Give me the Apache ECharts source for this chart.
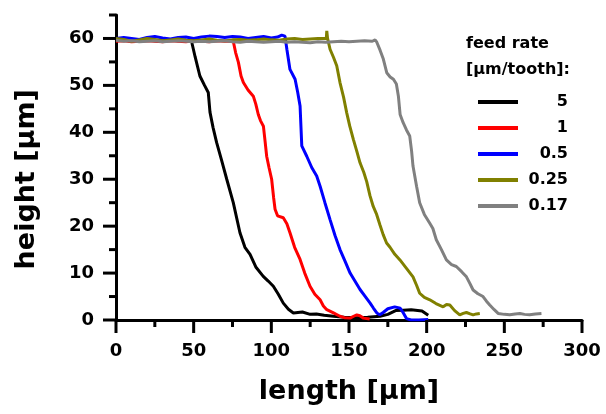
<!DOCTYPE html>
<html>
<head>
<meta charset="utf-8">
<script src="https://cdn.jsdelivr.net/npm/echarts@6/dist/echarts.min.js"></script>
<style>
  html, body { margin: 0; padding: 0; background: #fff; }
  #chart { width: 606px; height: 414px; }
</style>
</head>
<body>
<div id="chart"></div>
<script>
// Feed-rate profiles: height over length, one curve per feed rate
const seriesNames = ['5', '1', '0.5', '0.25', '0.17'];
const seriesColors = ['#000000', '#ff0000', '#0000ff', '#808000', '#808080'];

const x5 = [0, 5, 10, 15, 20, 25, 30, 35, 40, 45, 48.7, 51, 54, 57, 59.4, 60.5, 62.5, 64.8, 68, 71.3, 75.5, 79.8, 83, 86.3, 90, 94.8, 98, 101.3, 104.5, 107.7, 111, 114.2, 120, 125, 129, 134, 140, 147, 155, 162, 170, 175, 180, 185, 190, 197, 201];
const y5 = [59.5, 59.7, 59.4, 59.6, 59.8, 59.5, 59.4, 59.7, 59.5, 59.6, 59.3, 56, 52, 50, 48.5, 44.3, 41, 37.8, 34, 30, 25, 18.6, 15.5, 14, 11.3, 9.3, 8.3, 7.2, 5.5, 3.6, 2.3, 1.5, 1.7, 1.2, 1.3, 1, 0.8, 0.6, 0.5, 0.6, 0.8, 1.2, 2, 2.1, 2.2, 1.9, 1];

const x1 = [0, 5, 10, 15, 20, 25, 30, 35, 40, 45, 50, 55, 60, 65, 70, 75.5, 77, 78.8, 80.5, 82, 85, 88.4, 90, 91.6, 93, 94.9, 96, 97, 98.5, 100.2, 101.5, 102.4, 104, 107.7, 110, 112, 115, 118.5, 121.5, 124.9, 128, 131.4, 133.5, 135.7, 140, 144.2, 147, 150.7, 153, 155, 157, 159.3, 163.3];
const y1 = [59.4, 59.5, 59.3, 59.4, 59.5, 59.4, 59.3, 59.5, 59.4, 59.3, 59.5, 59.4, 59.3, 59.5, 59.4, 59.4, 57, 54.9, 52, 50.6, 49, 47.7, 46, 43.8, 42.5, 41.3, 38, 34.9, 32.5, 30, 26, 23.6, 22.2, 21.8, 20.5, 18.6, 15.5, 12.9, 10, 7.2, 5.5, 4.3, 3, 2.2, 1.5, 0.8, 0.5, 0.4, 0.8, 1.1, 0.9, 0.4, 0.2];

const x05 = [0, 5, 10, 15, 20, 25, 30, 35, 40, 45, 50, 55, 60, 65, 70, 75, 80, 85, 90, 95, 100, 104, 106.7, 108.8, 110, 112, 115.3, 117, 118.5, 119.6, 122.8, 126, 129.2, 131.4, 134.5, 137.8, 141, 144.2, 147.5, 150.7, 154, 157.1, 160.5, 163.6, 165.8, 167.9, 169.8, 172, 175, 179.4, 183, 185, 187, 190, 195, 201];
const y05 = [60.0, 60.2, 60.0, 59.8, 60.2, 60.4, 60.1, 59.9, 60.2, 60.3, 60.0, 60.3, 60.5, 60.4, 60.2, 60.4, 60.3, 60.0, 60.2, 60.4, 60.1, 60.3, 60.7, 60.5, 57.7, 53.4, 51.3, 48.5, 45.6, 37.1, 34.9, 32.5, 30.7, 28.5, 25, 21.4, 18, 15, 12.5, 10, 8.2, 6.5, 5, 3.6, 2.5, 1.5, 1.1, 1.6, 2.4, 2.8, 2.5, 1.5, 0.3, 0, 0, 0.1];

const x025 = [0, 5, 10, 15, 20, 25, 30, 35, 40, 45, 50, 55, 60, 65, 70, 75, 80, 85, 90, 95, 100, 105, 110, 115, 120, 125, 130, 134, 135.4, 135.7, 136.2, 137.8, 140, 142.1, 144.2, 146.5, 148.5, 150.5, 152.8, 155, 157.1, 159.5, 161.4, 163.5, 165.6, 167.8, 170, 172, 174.2, 176.4, 179.5, 182.8, 187, 191.2, 193.5, 195.5, 198.5, 202, 206, 210.6, 212.8, 214.9, 218, 221.3, 223.5, 225.6, 228, 229.9, 232, 234.2];
const y025 = [60.0, 59.8, 59.4, 59.7, 60.0, 59.8, 59.5, 59.7, 59.9, 59.6, 59.5, 59.7, 59.9, 59.6, 59.5, 59.7, 59.8, 59.6, 59.7, 59.9, 59.7, 59.6, 59.9, 60.0, 59.8, 59.9, 60.0, 60.0, 60.0, 61.6, 60.0, 57.7, 56, 54.2, 50.6, 47.5, 44.2, 41.3, 38.5, 36, 33.5, 31.5, 29.5, 26.5, 24.2, 22.5, 20.2, 18.2, 16.4, 15.5, 14, 12.8, 11, 9.2, 7.4, 5.7, 4.8, 4.3, 3.5, 2.8, 3.3, 3.2, 2, 1.1, 1.4, 1.6, 1.3, 1.1, 1.3, 1.4];

const x017 = [0, 5, 10, 15, 20, 25, 30, 35, 40, 45, 50, 55, 60, 65, 70, 75, 80, 85, 90, 95, 100, 105, 110, 115, 120, 125, 130, 135, 140, 145, 150, 155, 160, 165, 166.8, 167.9, 170, 172.1, 174.3, 176.5, 178.6, 180.5, 181.8, 182.9, 184.8, 187, 189.1, 190.3, 191.2, 193.5, 195.5, 198.5, 202, 204, 206.2, 209.5, 212.7, 216, 219.1, 222.5, 225.6, 227.8, 229.9, 233, 236.3, 238.5, 240.6, 243.5, 246, 250, 253.5, 257, 260, 263, 266.3, 270, 273.9];
const y017 = [59.6, 59.4, 59.5, 59.3, 59.4, 59.5, 59.3, 59.4, 59.5, 59.4, 59.3, 59.4, 59.3, 59.4, 59.5, 59.3, 59.2, 59.4, 59.3, 59.2, 59.3, 59.4, 59.2, 59.3, 59.2, 59.1, 59.3, 59.2, 59.3, 59.4, 59.3, 59.4, 59.5, 59.4, 59.7, 59.2, 57.5, 55.6, 52.7, 51.8, 51.3, 50.3, 47.7, 43.8, 42.1, 40.5, 39.2, 36, 32.8, 28.5, 25, 22.5, 20.6, 19.5, 17.1, 15, 12.8, 11.8, 11.4, 10.3, 9.2, 7.8, 6.4, 5.6, 5, 4, 3.2, 2.2, 1.4, 1.2, 1.1, 1.3, 1.4, 1.2, 1.1, 1.3, 1.4];

// Tick positions along both axes
const xMajorTicks = [0, 50, 100, 150, 200, 250, 300];
const xMinorTicks = [25, 75, 125, 175, 225, 275];
const yMajorTicks = [0, 10, 20, 30, 40, 50, 60];
const yMinorTicks = [5, 15, 25, 35, 45, 55, 65];

const xs = [x5, x1, x05, x025, x017];
const ys = [y5, y1, y05, y025, y017];

const FONT = 'DejaVu Sans';

// Axis extents: the height axis line runs to 65, labels stop at 60
const X_MAX = 300;
const Y_AXIS_MAX = 65;
const Y_LABEL_MAX = 60;

// Plot box in pixels
const PLOT = { left: 116, right: 24, top: 15, bottom: 94 };
const plotHeight = 414 - PLOT.top - PLOT.bottom;
// second grid carries the labelled 0..60 values on the same scale
const labelGridTop = 414 - PLOT.bottom - plotHeight * Y_LABEL_MAX / Y_AXIS_MAX;

const series = seriesNames.map((name, i) => ({
  name: name,
  type: 'line',
  xAxisIndex: 0,
  yAxisIndex: 0,
  showSymbol: false,
  symbol: 'none',
  lineStyle: { color: seriesColors[i], width: 3 },
  itemStyle: { color: seriesColors[i] },
  data: xs[i].map((v, k) => [v, ys[i][k]])
}));

const blackLine = () => ({ color: '#000', width: 3 });
const labelStyle = () => ({ fontFamily: FONT, fontSize: 18, fontWeight: 'bold', color: '#000', margin: 22 });

const option = {
  animation: false,
  backgroundColor: '#fff',
  title: {
    text: 'feed rate\n[µm/tooth]:',
    left: 466,
    top: 31,
    padding: 0,
    textStyle: { fontFamily: FONT, fontSize: 16, fontWeight: 'bold', color: '#000', lineHeight: 26 }
  },
  legend: {
    orient: 'vertical',
    left: 478,
    top: 92,
    padding: 0,
    itemWidth: 40,
    itemHeight: 4,
    itemGap: 6,
    icon: 'rect',
    data: seriesNames,
    formatter: n => '{v|' + n + '}',
    textStyle: {
      fontFamily: FONT, fontSize: 16, fontWeight: 'bold', color: '#000', lineHeight: 20,
      rich: { v: { width: 45, align: 'right', fontFamily: FONT, fontSize: 16, fontWeight: 'bold', color: '#000' } }
    }
  },
  grid: [
    { left: PLOT.left, right: PLOT.right, top: PLOT.top, bottom: PLOT.bottom, containLabel: false },
    { left: PLOT.left, right: PLOT.right, top: labelGridTop, bottom: PLOT.bottom, containLabel: false }
  ],
  xAxis: [
    {
      type: 'value', gridIndex: 0, min: 0, max: X_MAX, interval: 50, position: 'bottom',
      name: 'length [µm]', nameLocation: 'middle', nameGap: 58,
      nameTextStyle: { fontFamily: FONT, fontSize: 27, fontWeight: 'bold', color: '#000' },
      axisLine: { show: true, onZero: false, lineStyle: blackLine() },
      axisTick: { show: false },
      axisLabel: labelStyle(),
      splitLine: { show: false }
    },
    { type: 'value', gridIndex: 1, min: 0, max: X_MAX, show: false }
  ],
  yAxis: [
    {
      // full-height axis line
      type: 'value', gridIndex: 0, min: 0, max: Y_AXIS_MAX, interval: 5, position: 'left',
      axisLine: { show: true, onZero: false, lineStyle: blackLine() },
      axisTick: { show: false },
      axisLabel: { show: false },
      splitLine: { show: false }
    },
    {
      // labels every 10
      type: 'value', gridIndex: 1, min: 0, max: Y_LABEL_MAX, interval: 10, position: 'left',
      name: 'height [µm]', nameLocation: 'middle', nameGap: 76,
      nameTextStyle: { fontFamily: FONT, fontSize: 27, fontWeight: 'bold', color: '#000' },
      axisLine: { show: false, onZero: false },
      axisTick: { show: false },
      axisLabel: labelStyle(),
      splitLine: { show: false }
    }
  ],
  series: series
};

const chart = echarts.init(document.getElementById('chart'), null, { renderer: 'canvas' });
chart.setOption(option);

// Outward tick marks, placed through the axes' own scales
const tickStyle = { stroke: '#000', lineWidth: 3 };
const xAxisPx = chart.convertToPixel({ yAxisIndex: 0 }, 0);
const yAxisPx = chart.convertToPixel({ xAxisIndex: 0 }, 0);
const ticks = [];
function xTick(v, len) {
  const p = chart.convertToPixel({ xAxisIndex: 0 }, v);
  ticks.push({ type: 'line', silent: true, z: 10, shape: { x1: p, y1: xAxisPx, x2: p, y2: xAxisPx + len }, style: tickStyle });
}
function yTick(v, len) {
  const p = chart.convertToPixel({ yAxisIndex: 0 }, v);
  ticks.push({ type: 'line', silent: true, z: 10, shape: { x1: yAxisPx, y1: p, x2: yAxisPx - len, y2: p }, style: tickStyle });
}
xMajorTicks.forEach(v => xTick(v, 13));
xMinorTicks.forEach(v => xTick(v, 7));
yMajorTicks.forEach(v => yTick(v, 13));
yMinorTicks.forEach(v => yTick(v, 7));
chart.setOption({ graphic: ticks });
</script>
</body>
</html>
